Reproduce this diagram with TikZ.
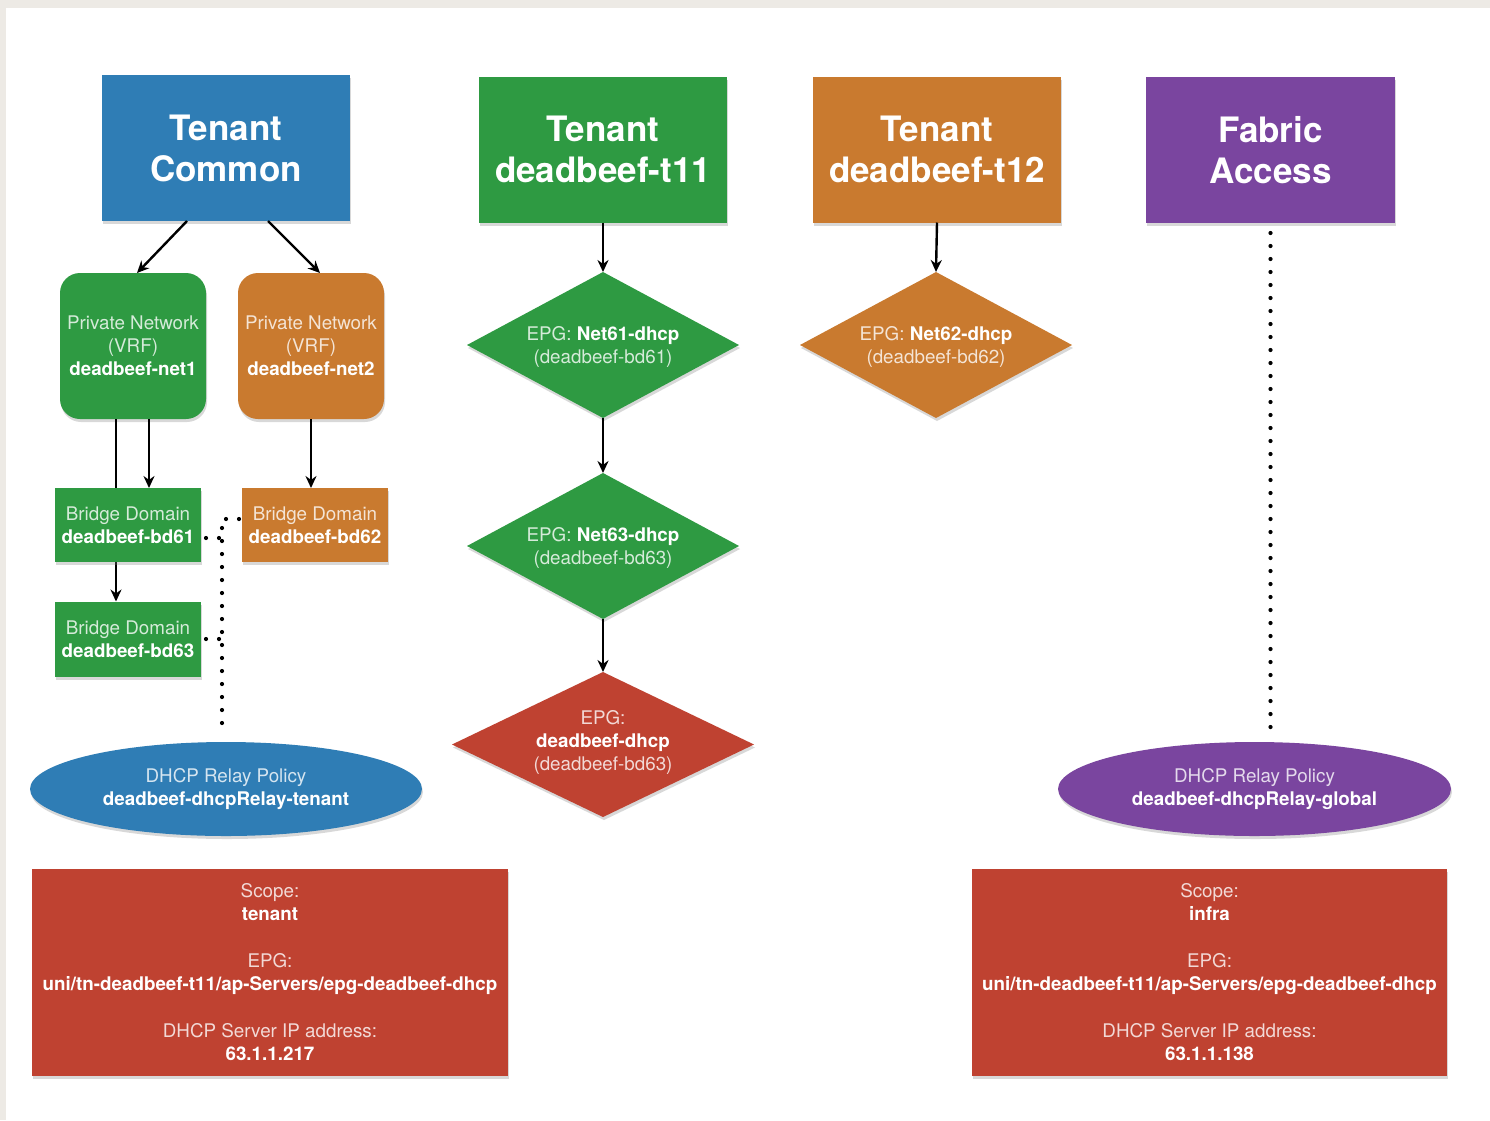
\documentclass[tikz,border=0pt]{standalone}
\usepackage{fontspec}
\setmainfont{TeX Gyre Heros}
\usetikzlibrary{shapes.geometric,arrows.meta,calc,shadows}
\definecolor{cblue}{HTML}{2F7DB5}
\definecolor{cgreen}{HTML}{2E9A42}
\definecolor{corange}{HTML}{C97A2F}
\definecolor{cpurple}{HTML}{7A459F}
\definecolor{cred}{HTML}{BF4231}
\definecolor{bgframe}{HTML}{EDEAE5}
\newcommand\lt[2]{\textcolor{white!80!#1}{#2}}
\begin{document}
\begin{tikzpicture}[x=1pt,y=-1pt,
  shd/.style={drop shadow={shadow xshift=1pt,shadow yshift=-3pt,opacity=0.3}},
  title/.style={shd, minimum width=248pt, minimum height=146pt, inner sep=0pt, outer sep=0pt,
    text=white, align=center, font=\fontsize{35}{41}\selectfont\bfseries},
  small/.style={font=\fontsize{18.8}{23}\selectfont, align=center, text=white},
  vrf/.style={small, shd, rounded corners=20pt, minimum width=146pt, minimum height=146pt, inner sep=0pt, outer sep=0pt},
  bdbox/.style={small, shd, minimum width=146pt, minimum height=74pt, inner sep=0pt, outer sep=0pt},
  epg/.style={shape=diamond, shd, minimum width=272pt, minimum height=146pt, inner sep=0pt, outer sep=0pt},
  lbl/.style={small, inner sep=0pt},
  relay/.style={ellipse, small, shd, minimum width=392pt, minimum height=94pt, inner sep=0pt, outer sep=0pt},
  info/.style={small, shd, minimum width=476pt, minimum height=207pt, inner sep=0pt, outer sep=0pt},
  arr/.style={line width=2.4pt, -{Stealth[length=12pt,width=11pt]}},
  dots/.style={line width=4.2pt, line cap=round, dash pattern=on 0pt off 13pt}
]
\useasboundingbox (0,0) rectangle (1490,1120);
\fill[bgframe] (0,0) rectangle (1490,1120);
\fill[white] (6,8) rectangle (1490,1120);

% Tenant boxes
\node[title, fill=cblue] (tc) at (226,148) {Tenant\\Common};
\node[title, fill=cgreen] (t11) at (603,149.5) {Tenant\\deadbeef-t11};
\node[title, fill=corange] (t12) at (937,149.5) {Tenant\\deadbeef-t12};
\node[title, fill=cpurple, minimum width=249pt] (fa) at (1270.5,150) {Fabric\\Access};

% Private networks
\node[vrf, fill=cgreen] (net1) at (133,346) {\lt{cgreen}{Private Network}\\\lt{cgreen}{(VRF)}\\\textbf{deadbeef-net1}};
\node[vrf, fill=corange] (net2) at (311,346) {\lt{corange}{Private Network}\\\lt{corange}{(VRF)}\\\textbf{deadbeef-net2}};

% connector net1 -> bd63 (runs behind bd61)
\node[bdbox, fill=cgreen, minimum height=75pt] (bd63) at (128,639) {\lt{cgreen}{Bridge Domain}\\\textbf{deadbeef-bd63}};
\draw[arr] (net1.south) ++(-17,0) coordinate (p1) -- (p1 |- bd63.north);

% Bridge domains
\node[bdbox, fill=cgreen] (bd61) at (128,525) {\lt{cgreen}{Bridge Domain}\\\textbf{deadbeef-bd61}};
\node[bdbox, fill=corange] (bd62) at (315,525) {\lt{corange}{Bridge Domain}\\\textbf{deadbeef-bd62}};

% EPG diamonds
\node[epg, fill=cgreen] (e61) at (603,345) {};
\node[lbl] (e61t) at (603,346.5) {\lt{cgreen}{EPG:} \textbf{Net61-dhcp}\\\lt{cgreen}{(deadbeef-bd61)}};
\node[epg, fill=cgreen] (e63) at (603,546) {};
\node[lbl] (e63t) at (603,547.5) {\lt{cgreen}{EPG:} \textbf{Net63-dhcp}\\\lt{cgreen}{(deadbeef-bd63)}};
\node[epg, fill=cred, minimum width=302pt, minimum height=145pt] (ed) at (603,744.5) {};
\node[lbl] (edt) at (603,742) {\lt{cred}{EPG:}\\\textbf{deadbeef-dhcp}\\\lt{cred}{(deadbeef-bd63)}};
\node[epg, fill=corange] (e62) at (936,345) {};
\node[lbl] (e62t) at (936,346.5) {\lt{corange}{EPG:} \textbf{Net62-dhcp}\\\lt{corange}{(deadbeef-bd62)}};

% Relay policies
\node[relay, fill=cblue] (rt) at (226,789) {\lt{cblue}{DHCP Relay Policy}\\\textbf{deadbeef-dhcpRelay-tenant}};
\node[relay, fill=cpurple, minimum width=393pt] (rg) at (1254.5,789) {\lt{cpurple}{DHCP Relay Policy}\\\textbf{deadbeef-dhcpRelay-global}};

% Info boxes
\node[info, fill=cred] (il) at (270,972.5) {\lt{cred}{Scope:}\\\textbf{tenant}\\[24pt]\lt{cred}{EPG:}\\\textbf{uni/tn-deadbeef-t11/ap-Servers/epg-deadbeef-dhcp}\\[24pt]\lt{cred}{DHCP Server IP address:}\\\textbf{63.1.1.217}};
\node[info, fill=cred, minimum width=475pt] (ir) at (1209.5,972.5) {\lt{cred}{Scope:}\\\textbf{infra}\\[24pt]\lt{cred}{EPG:}\\\textbf{uni/tn-deadbeef-t11/ap-Servers/epg-deadbeef-dhcp}\\[24pt]\lt{cred}{DHCP Server IP address:}\\\textbf{63.1.1.138}};

% Arrows
\draw[arr] ($(tc.south)+(-39,0)$) -- ($(net1.north)+(4,0)$);
\draw[arr] ($(tc.south)+(42,0)$) -- ($(net2.north)+(9,0)$);
\draw[arr] (net1.south) ++(16,0) coordinate (p2) -- (p2 |- bd61.north);
\draw[arr] (net2.south) -- (net2.south |- bd62.north);
\draw[arr] (t11.south) -- (e61.north);
\draw[arr] (e61.south) -- (e63.north);
\draw[arr] (e63.south) -- (ed.north);
\draw[arr] (t12.south) -- (e62.north);

% Dotted relations
\coordinate (rtin) at ($(rt.north)+(-4,-7)$);
\draw[dots] ($(bd62.west)+(-3,-6)$) -| (rtin);
\draw[dots] ($(bd61.east)+(5,13)$) -- ($(bd61.east)+(21,13)$);
\draw[dots] ($(bd63.east)+(5,0)$) -- ($(bd63.east)+(21,0)$);
\draw[dots] ($(fa.south)+(0,10)$) -- ($(rg.north)+(16,-7)$);
\end{tikzpicture}
\end{document}
